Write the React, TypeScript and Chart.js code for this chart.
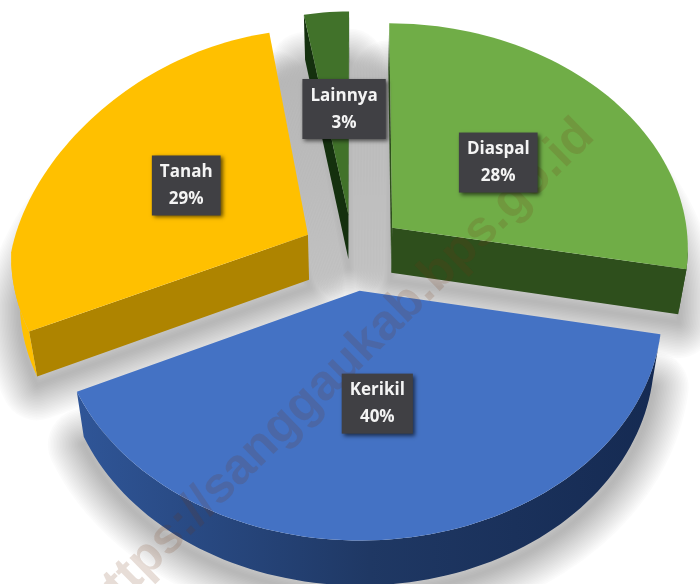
import React, { useEffect, useRef } from "react";
import { Chart, registerables } from "chart.js";

Chart.register(...registerables);

const categories = ["Diaspal", "Kerikil", "Tanah", "Lainnya"];
const shares = [28, 40, 29, 3];
const topColors = ["#70AD47", "#4472C4", "#FFC000", "#41722A"];
const sideColors = ["#2E4F1C", "#1F3864", "#AE8400", "#14300E"];
const drawOrder = [3, 2, 0, 1];
const labelNudgeX = [3, -1, -6, 7];
const labelNudgeY = [-1, 2, -3, -7];
const watermark = "https://sanggaukab.bps.go.id";

const CX = 353, CY = 252, SX = 297, SY = 222, PERSP = 0.084, PERSP_TOP = 0.07, PERSP_UL = 0.2, DEPTH = 45, SHRINK = 0.975;
const EXPLODE = 0.173;

function project(u: number, v: number, low: boolean) {
  const w = 1 - PERSP * v;
  const wy = v < 0 ? 1 - PERSP_TOP * v : w;
  const wx = u < 0 && v < 0 ? 1 - PERSP_UL * v : w;
  let x = SX * u / wx;
  let y = CY + SY * v / wy;
  if (low) {
    x *= SHRINK;
    y += DEPTH;
  }
  return { x: CX + x, y };
}

function slicePoints(arc: any, low: boolean) {
  const mid = (arc.startAngle + arc.endAngle) / 2;
  const ox = Math.cos(mid) * EXPLODE, oy = Math.sin(mid) * EXPLODE;
  const pts = [project(ox, oy, low)];
  const steps = Math.max(3, Math.ceil((arc.endAngle - arc.startAngle) / 0.03));
  for (let i = 0; i <= steps; i++) {
    const a = arc.startAngle + (arc.endAngle - arc.startAngle) * i / steps;
    pts.push(project(ox + Math.cos(a), oy + Math.sin(a), low));
  }
  return pts;
}

function trace(ctx: CanvasRenderingContext2D, pts: { x: number; y: number }[]) {
  ctx.beginPath();
  pts.forEach((p, i) => (i ? ctx.lineTo(p.x, p.y) : ctx.moveTo(p.x, p.y)));
  ctx.closePath();
}

const pie3d = {
  id: "pie3d",
  beforeDatasetsDraw(chart: any) {
    const ctx: CanvasRenderingContext2D = chart.ctx;
    const arcs = chart.getDatasetMeta(0).data;
    // soft shadow pass: layered translucent outlines
    ctx.save();
    ctx.translate(0, 8);
    ctx.lineJoin = "round";
    ctx.strokeStyle = "rgba(0,0,0,0.016)";
    drawOrder.forEach((i) => {
      trace(ctx, slicePoints(arcs[i], true));
      for (let lw = 72; lw >= 2; lw -= 3) {
        ctx.lineWidth = lw;
        ctx.stroke();
      }
    });
    ctx.restore();

    drawOrder.forEach((i) => {
      const a = arcs[i];
      const top = slicePoints(a, false);
      const low = slicePoints(a, true);
      const n = top.length;
      let band: number[] = [];
      const flush = () => {
        if (band.length < 2) { band = []; return; }
        const isRim = band[0] > 0 && band[band.length - 1] < n && band.length > 2;
        let color: any = sideColors[i];
        if (isRim && i === 2) color = "#FFC000";
        if (isRim && i === 1) {
          const g = ctx.createLinearGradient(80, 0, 660, 0);
          g.addColorStop(0, "#2F5597");
          g.addColorStop(0.5, "#1F3864");
          g.addColorStop(1, "#152A52");
          color = g;
        }
        ctx.fillStyle = color;
        const poly = [
          ...band.map((j) => top[j % n]),
          ...band.slice().reverse().map((j) => low[j % n]),
        ];
        trace(ctx, poly);
        ctx.fill();
        band = [];
      };
      for (let j = 0; j < n; j++) {
        const k = j + 1;
        const front = top[k % n].x - top[j].x < 0;
        const boundary = j === 0 || j === n - 1;
        if (front) {
          if (boundary) {
            flush();
            band = [j, k];
            flush();
          } else {
            if (!band.length) band.push(j);
            band.push(k);
          }
        } else flush();
      }
      flush();
      ctx.fillStyle = a.options.backgroundColor;
      trace(ctx, top);
      ctx.fill();
    });

    // watermark
    ctx.save();
    ctx.translate(100, 624);
    ctx.rotate(-Math.PI / 4 + 0.01);
    ctx.font = "bold 50px 'Liberation Sans'";
    ctx.textBaseline = "alphabetic";
    ctx.fillStyle = "rgba(110,55,15,0.17)";
    ctx.fillText(watermark, 0, 0);
    ctx.restore();

    // data labels
    ctx.font = "bold 17px 'Open Sans'";
    ctx.textAlign = "center";
    ctx.textBaseline = "middle";
    arcs.forEach((a: any, i: number) => {
      const mid = (a.startAngle + a.endAngle) / 2;
      const r = EXPLODE + 0.47;
      const p = project(Math.cos(mid) * r, Math.sin(mid) * r, false);
      const c = { x: p.x + labelNudgeX[i], y: p.y + labelNudgeY[i] };
      const l1 = categories[i];
      const l2 = `${shares[i]}%`;
      const w = Math.max(ctx.measureText(l1).width, ctx.measureText(l2).width) + 16;
      const h = 60;
      ctx.save();
      ctx.shadowColor = "rgba(0,0,0,0.6)";
      ctx.shadowBlur = 4;
      ctx.shadowOffsetX = 2;
      ctx.shadowOffsetY = 2;
      ctx.fillStyle = "#404044";
      ctx.fillRect(c.x - w / 2, c.y - h / 2, w, h);
      ctx.restore();
      ctx.fillStyle = "#f4f4f4";
      ctx.fillText(l1, c.x, c.y - 13);
      ctx.fillText(l2, c.x, c.y + 14);
    });
    return false;
  },
};

export default function App() {
  const ref = useRef<HTMLCanvasElement>(null);
  useEffect(() => {
    document.body.style.background = "#fff";
    const chart = new Chart(ref.current!, {
      type: "pie",
      data: {
        labels: categories,
        datasets: [{ data: shares, backgroundColor: topColors, borderWidth: 0 }],
      },
      options: {
        animation: false,
        responsive: false,
        plugins: { legend: { display: false }, tooltip: { enabled: false } },
      },
      plugins: [pie3d],
    } as any);
    return () => chart.destroy();
  }, []);
  return (
    <canvas
      ref={ref}
      width={700}
      height={584}
      style={{ position: "fixed", left: 0, top: 0, width: 700, height: 584 }}
    />
  );
}
